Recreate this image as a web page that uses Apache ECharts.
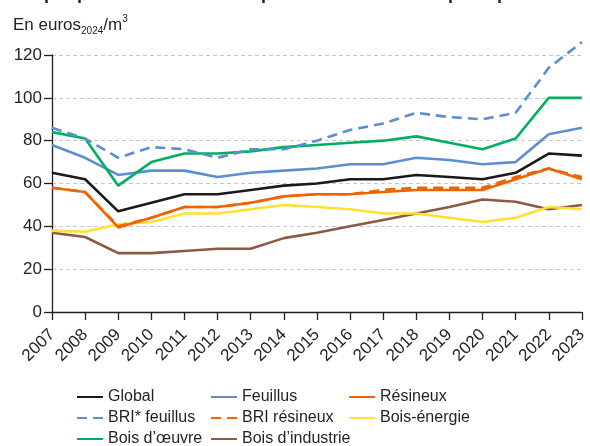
<!DOCTYPE html>
<html>
<head>
<meta charset="utf-8">
<script src="https://cdn.jsdelivr.net/npm/echarts@6/dist/echarts.min.js"></script>
<style>
  html, body { margin: 0; padding: 0; background: #fff; }
  #chart { width: 590px; height: 446px; }
</style>
</head>
<body>
<div id="chart"></div>
<script>
var years = ['2007', '2008', '2009', '2010', '2011', '2012', '2013', '2014', '2015', '2016', '2017', '2018', '2019', '2020', '2021', '2022', '2023']
var yTicks = [0, 20, 40, 60, 80, 100, 120]

var global = [65, 62, 47, 51, 55, 55, 57, 59, 60, 62, 62, 64, 63, 62, 65, 74, 73]
var feuillus = [78, 72, 64, 66, 66, 63, 65, 66, 67, 69, 69, 72, 71, 69, 70, 83, 86]
var resineux = [58, 56, 39.5, 44, 49, 49, 51, 54, 55, 55, 56, 57, 57, 57, 62, 67, 62]
var briFeuillus = [86, 81, 72, 77, 76, 72, 76, 76, 80, 85, 88, 93, 91, 90, 93, 114, 126]
var briResineux = [58, 56, 40, 44, 49, 49, 51, 54, 55, 55, 57, 58, 58, 58, 63, 67, 63]
var boisEnergie = [38, 37.5, 41, 42, 46, 46, 48, 50, 49, 48, 46, 46, 44, 42, 44, 49, 48]
var boisOeuvre = [84, 81, 59, 70, 74, 74, 75, 77, 78, 79, 80, 82, 79, 76, 81, 100, 100]
var boisIndustrie = [37, 35, 27.5, 27.5, 28.5, 29.5, 29.5, 34.5, 37, 40, 43, 46, 49, 52.5, 51.5, 48, 50]

// legend grid: rows top to bottom, three columns
var legendRows = [
  ['Global', 'Feuillus', 'Résineux'],
  ['BRI* feuillus', 'BRI résineux', 'Bois-énergie'],
  ['Bois d’œuvre', 'Bois d’industrie']
]

var font = '"Liberation Sans", Arial, sans-serif'
var txt = '#231f20'

function line(name, data, color, dashed) {
  return {
    name: name,
    type: 'line',
    data: data,
    symbol: 'none',
    legendIcon: 'none',
    clip: false,
    lineStyle: {
      color: color,
      width: 2.6,
      type: dashed ? [10, 6] : 'solid'
    },
    itemStyle: { color: color }
  }
}

// one small legend per entry so the columns stay aligned
var colLeft = [76, 210, 348]
var legends = []
legendRows.forEach(function (row, r) {
  row.forEach(function (name, c) {
    legends.push({
      left: colLeft[c],
      top: 389 + r * 21,
      padding: 0,
      itemWidth: 26,
      itemHeight: 14,
      itemStyle: { opacity: 0 },
      textStyle: { fontFamily: font, fontSize: 16, color: txt },
      data: [name]
    })
  })
})

var myChart = echarts.init(document.getElementById('chart'))
var option = {
  animation: false,
  textStyle: { fontFamily: font },
  title: [
    {
      // header cut off at top of the picture
      text: 'Graphique 2 – Évolution des prix des bois en forêt publique',
      left: 8,
      top: -20,
      textStyle: { fontFamily: font, fontSize: 18, fontWeight: 'bold', color: txt }
    },
    {
      text: '{a|En euros}{b|2024}{a|/m}{c|3}',
      left: 8,
      top: 9,
      textStyle: {
        fontWeight: 'normal',
        rich: {
          a: { fontFamily: font, fontSize: 17, fontWeight: 'normal', color: txt, lineHeight: 22 },
          b: { fontFamily: font, fontSize: 10, fontWeight: 'normal', color: txt, verticalAlign: 'bottom', lineHeight: 22, padding: [8, 0, 0, 0] },
          c: { fontFamily: font, fontSize: 10, fontWeight: 'normal', color: txt, verticalAlign: 'top', lineHeight: 22, padding: [0, 0, 8, 0] }
        }
      }
    }
  ],
  legend: legends,
  grid: {
    left: 52,
    right: 2,
    top: 55,
    bottom: 134,
    containLabel: false
  },
  xAxis: {
    type: 'category',
    data: years,
    boundaryGap: false,
    axisLine: { lineStyle: { color: txt, width: 1.3 } },
    axisTick: { length: 8, lineStyle: { color: txt, width: 1.3 } },
    axisLabel: {
      rotate: 45,
      fontSize: 17,
      color: txt,
      margin: 20,
      interval: 0
    },
    splitLine: { show: false }
  },
  yAxis: {
    type: 'value',
    min: yTicks[0],
    max: yTicks[yTicks.length - 1],
    interval: 20,
    axisLine: { show: true, lineStyle: { color: txt, width: 1.3 } },
    axisTick: { show: true, length: 8, lineStyle: { color: txt, width: 1.3 } },
    axisLabel: { fontSize: 17, color: txt, margin: 10 },
    splitLine: {
      show: true,
      lineStyle: { type: [4, 3], color: '#c8c8c8', width: 1 }
    }
  },
  series: [
    line('Bois d’industrie', boisIndustrie, '#8b5a42'),
    line('Bois-énergie', boisEnergie, '#ffe033'),
    line('Résineux', resineux, '#f06400'),
    line('BRI résineux', briResineux, '#f06400', true),
    line('Global', global, '#1a1a1a'),
    line('Feuillus', feuillus, '#5b8fcf'),
    line('Bois d’œuvre', boisOeuvre, '#00b060'),
    line('BRI* feuillus', briFeuillus, '#5b8fcf', true)
  ]
}
myChart.setOption(option)
</script>
</body>
</html>
